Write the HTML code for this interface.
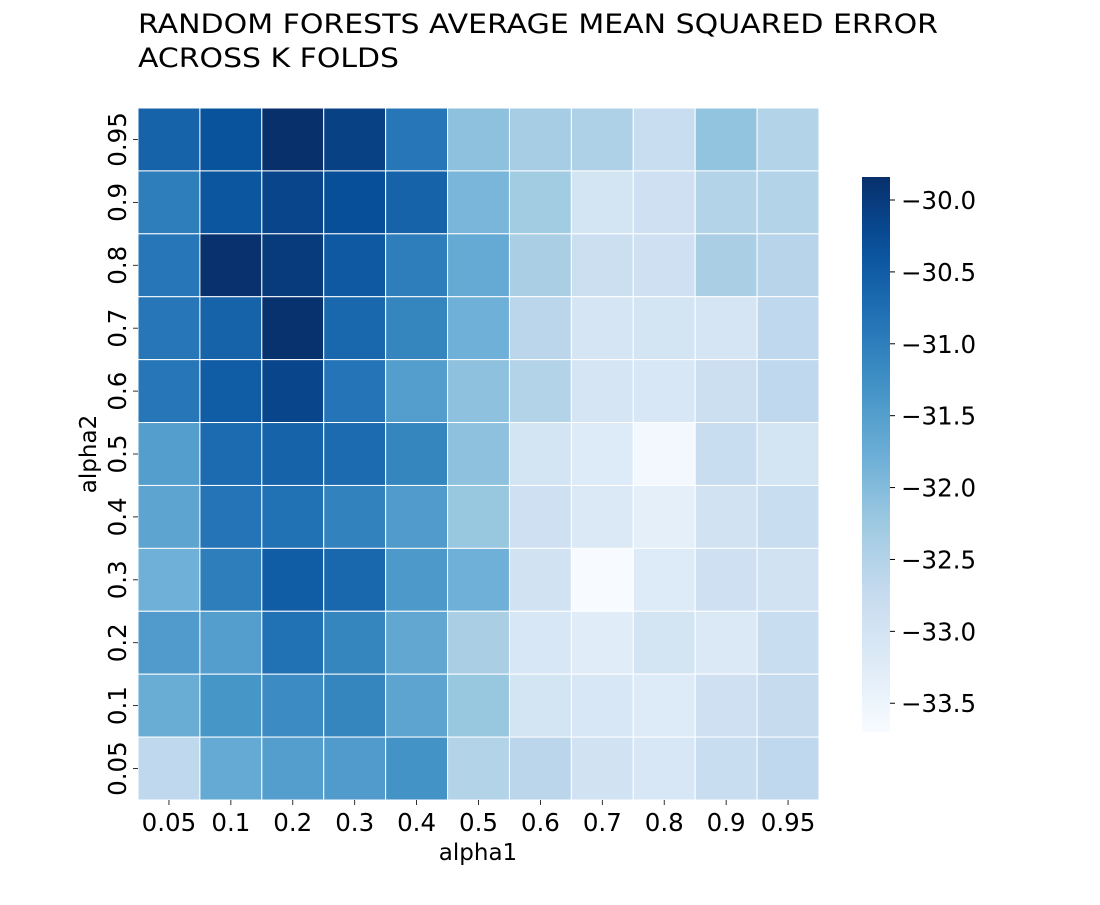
<!DOCTYPE html>
<html><head><meta charset="utf-8"><style>
body{margin:0;background:#fff;}
svg text{font-family:"DejaVu Sans","Liberation Sans",sans-serif;fill:#000;}
</style></head><body>
<svg id="chart" width="1100" height="900" xmlns="http://www.w3.org/2000/svg">
<text x="138" y="33" font-size="27" textLength="800" lengthAdjust="spacingAndGlyphs">RANDOM FORESTS AVERAGE MEAN SQUARED ERROR</text>
<text x="138" y="67" font-size="27" textLength="261" lengthAdjust="spacingAndGlyphs">ACROSS K FOLDS</text>
<g id="cells"></g><g id="xt"></g><g id="yt"></g>
<defs><linearGradient id="cbg" x1="0" y1="1" x2="0" y2="0"></linearGradient></defs>
<rect x="862" y="177" width="28" height="555" fill="url(#cbg)"/>
<g id="ct"></g>
<text x="478" y="860" font-size="23" text-anchor="middle">alpha1</text>
<text transform="translate(96,454) rotate(-90)" font-size="23" text-anchor="middle">alpha2</text>
</svg>
<script>
const xCats=["0.05","0.1","0.2","0.3","0.4","0.5","0.6","0.7","0.8","0.9","0.95"];
const yCats=["0.95","0.9","0.8","0.7","0.6","0.5","0.4","0.3","0.2","0.1","0.05"];
const row095=[-30.6,-30.35,-29.84,-30.1,-30.9,-32.1,-32.35,-32.45,-32.8,-32.15,-32.5];
const row09=[-31.0,-30.4,-30.15,-30.3,-30.6,-31.9,-32.3,-33.0,-32.9,-32.5,-32.5];
const row08=[-30.9,-29.86,-30.0,-30.45,-31.0,-31.7,-32.4,-32.85,-32.9,-32.4,-32.55];
const row07=[-30.9,-30.6,-29.87,-30.65,-31.1,-31.8,-32.6,-33.05,-33.0,-33.05,-32.65];
const row06=[-30.9,-30.5,-30.15,-30.85,-31.5,-32.1,-32.5,-33.05,-33.1,-32.85,-32.65];
const row05=[-31.5,-30.7,-30.6,-30.7,-31.1,-32.1,-33.0,-33.2,-33.6,-32.8,-33.0];
const row04=[-31.6,-30.85,-30.8,-31.05,-31.45,-32.2,-32.9,-33.15,-33.35,-32.95,-32.8];
const row03=[-31.8,-31.0,-30.5,-30.65,-31.4,-31.8,-32.95,-33.7,-33.2,-32.9,-32.95];
const row02=[-31.45,-31.5,-30.8,-31.1,-31.65,-32.4,-33.1,-33.25,-33.0,-33.15,-32.8];
const row01=[-31.75,-31.35,-31.2,-31.1,-31.6,-32.2,-33.0,-33.1,-33.2,-32.9,-32.75];
const row005=[-32.65,-31.7,-31.5,-31.45,-31.3,-32.5,-32.6,-32.95,-33.1,-32.8,-32.65];
const rows=[row095,row09,row08,row07,row06,row05,row04,row03,row02,row01,row005];
const cbTicks=[-30.0,-30.5,-31.0,-31.5,-32.0,-32.5,-33.0,-33.5];
const vmin=-33.7, vmax=-29.84;
const stops=["#f7fbff","#deebf7","#c6dbef","#9ecae1","#6baed6","#4292c6","#2171b5","#08519c","#08306b"];
function hx(c){return [1,3,5].map(i=>parseInt(c.substr(i,2),16));}
function cmap(v){let t=Math.max(0,Math.min(1,(v-vmin)/(vmax-vmin)))*8;let i=Math.min(7,Math.floor(t)),f=t-i;
 const a=hx(stops[i]),b=hx(stops[i+1]);return "rgb("+a.map((x,k)=>Math.round(x+(b[k]-x)*f)).join(",")+")";}
const NS="http://www.w3.org/2000/svg";
const X0=138,X1=819,Y0=108,Y1=800;const cw=(X1-X0)/xCats.length,ch=(Y1-Y0)/yCats.length;
const xs=i=>X0+i*cw, ys=j=>Y0+j*ch;
const cells=document.getElementById("cells");
rows.forEach((r,j)=>r.forEach((v,i)=>{const e=document.createElementNS(NS,"rect");


e.setAttribute("x",xs(i));e.setAttribute("y",ys(j));e.setAttribute("width",cw);e.setAttribute("height",ch);
e.setAttribute("fill",cmap(v));e.setAttribute("stroke","#fff");e.setAttribute("stroke-width","1");cells.appendChild(e);}));
function txt(g,x,y,s,anchor,rot){const t=document.createElementNS(NS,"text");t.textContent=s;t.setAttribute("font-size","24.5");
t.setAttribute("text-anchor",anchor);if(rot){t.setAttribute("transform","translate("+x+","+y+") rotate(-90)");}else{t.setAttribute("x",x);t.setAttribute("y",y);}g.appendChild(t);return t;}
function tick(g,x1,y1,x2,y2){const l=document.createElementNS(NS,"line");


l.setAttribute("x1",x1);l.setAttribute("x2",x2);l.setAttribute("y1",y1);l.setAttribute("y2",y2);l.setAttribute("stroke","#000");l.setAttribute("stroke-width","0.8");g.appendChild(l);}
const xt=document.getElementById("xt");
xCats.forEach((c,i)=>{const t=txt(xt,xs(i)+cw/2,831,c,"middle");


tick(xt,xs(i)+cw/2,800,xs(i)+cw/2,805);});
const yt=document.getElementById("yt");
yCats.forEach((c,j)=>{const t=txt(yt,126,ys(j)+ch/2,c,"middle",true);


tick(yt,133,ys(j)+ch/2,138,ys(j)+ch/2);});
const g=document.getElementById("cbg");
for(let k=0;k<=20;k++){const s=document.createElementNS(NS,"stop");s.setAttribute("offset",k/20);s.setAttribute("stop-color",cmap(vmin+(vmax-vmin)*k/20));g.appendChild(s);}
const CB0=177,CB1=732;const cy=v=>CB1-(v-vmin)/(vmax-vmin)*(CB1-CB0);
const ct=document.getElementById("ct");
cbTicks.forEach(v=>{const y=cy(v);const l=document.createElementNS(NS,"line");


l.setAttribute("x1",890);l.setAttribute("x2",895);l.setAttribute("y1",y);l.setAttribute("y2",y);l.setAttribute("stroke","#000");ct.appendChild(l);
const t=txt(ct,901,y+9,"\u2212"+Math.abs(v).toFixed(1),"start");

});
</script>
</body></html>
